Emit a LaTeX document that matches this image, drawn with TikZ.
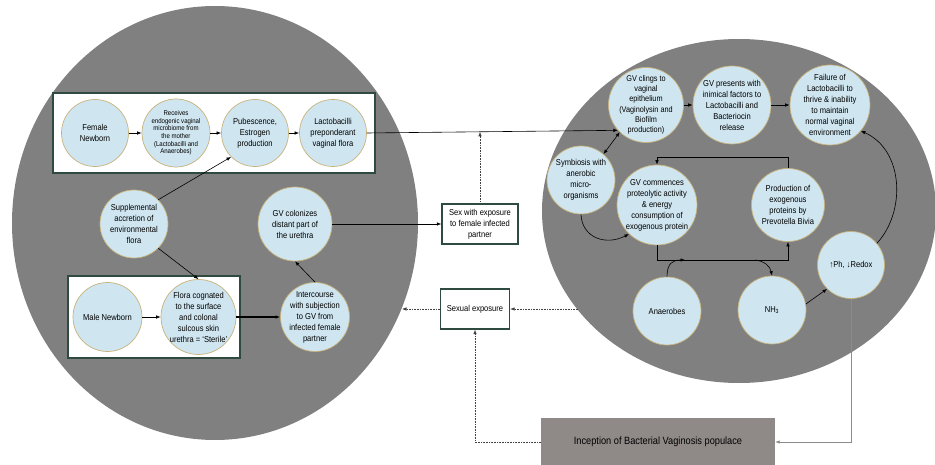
\documentclass[tikz,border=0pt]{standalone}
\usepackage{fontspec}
\setmainfont{Liberation Sans}[FakeStretch=0.88]
\usetikzlibrary{arrows.meta, calc}

\definecolor{zone}{HTML}{808080}
\definecolor{bub}{HTML}{CFE6F1}
\definecolor{bubline}{HTML}{C8B27A}
\definecolor{boxline}{HTML}{2F4A3E}
\definecolor{incepfill}{HTML}{8F8A88}

\tikzset{
  bubble/.style={circle, fill=bub, draw=bubline, line width=0.7pt, inner sep=0pt},
  txt/.style={align=center, inner sep=0pt, font=\fontsize{8.6}{11}\selectfont},
  small/.style={align=center, inner sep=0pt, font=\fontsize{6.9}{7.6}\selectfont},
  boxframe/.style={draw=boxline, line width=1.4pt, fill=white},
  link/.style={->, line width=0.6pt},
  dots/.style={->, densely dotted, line width=0.6pt, draw=black!75},
}

\begin{document}
\begin{tikzpicture}[x=1pt, y=-1pt, >={Latex[length=4.5pt,width=3.5pt]}]
\useasboundingbox (0,0) rectangle (935,465);
% the two grey zones
\fill[zone] (215,223) ellipse [x radius=203, y radius=217];
\fill[zone] (739,211) ellipse [x radius=197, y radius=172];
% female and male frames
\draw[boxframe] (53,93) rectangle (375,173);
\draw[boxframe] (68,276) rectangle (240,358);

% left zone
\node[bubble, minimum size=67, label={[txt]center:{Female\\Newborn}}] (fnew) at (95,133) {};
\node[bubble, minimum size=68, label={[small]center:{Receives\\endogenic vaginal\\microbiome from\\the mother\\(Lactobacilli and\\Anaerobes)}}] (recv) at (176,133) {};
\node[bubble, minimum size=67, label={[txt]center:{Pubescence,\\Estrogen\\production}}] (pube) at (255,133) {};
\node[bubble, minimum size=67, label={[txt]center:{Lactobacilli\\preponderant\\vaginal flora}}] (lacto) at (333,133) {};
\node[bubble, minimum size=68, label={[txt]center:{Supplemental\\accretion of\\environmental\\flora}}] (suppl) at (134,224) {};
\node[bubble, minimum size=74, label={[txt]center:{GV colonizes\\distant part of\\the urethra}}] (gvcol) at (295,224) {};
\node[bubble, minimum size=69, label={[txt]center:{Male Newborn}}] (mnew) at (107.5,317) {};
\node[bubble, minimum size=75, label={[txt]center:{Flora cognated\\to the surface\\and colonal\\sulcous skin\\urethra = ‘Sterile’}}] (flora) at (198.5,317) {};
\node[bubble, minimum size=69, label={[txt]center:{Intercourse\\with subjection\\to GV from\\infected female\\partner}}] (inter) at (315,317) {};

% right zone
\node[bubble, minimum size=75, label={[txt, font=\fontsize{8.3}{10.3}\selectfont]center:{GV clings to\\vaginal\\epithelium\\(Vaginolysin and\\Biofilm\\production)}}] (clings) at (646,105) {};
\node[bubble, minimum size=78, label={[txt]center:{GV presents with\\inimical factors to\\Lactobacilli and\\Bacteriocin\\release}}] (presents) at (732,105) {};
\node[bubble, minimum size=80, label={[txt]center:{Failure of\\Lactobacilli to\\thrive \& inability\\to maintain\\normal vaginal\\environment}}] (failure) at (830,105) {};
\node[bubble, minimum size=68, label={[txt]center:{Symbiosis with\\anerobic\\micro-\\organisms}}] (symb) at (581,180) {};
\node[bubble, minimum size=80, label={[txt]center:{GV commences\\proteolytic activity\\\& energy\\consumption of\\exogenous protein}}] (commence) at (657,205) {};
\node[bubble, minimum size=73, label={[txt]center:{Production of\\exogenous\\proteins by\\Prevotella Bivia}}] (prod) at (788,205) {};
\node[bubble, minimum size=67, label={[txt]center:{↑Ph, ↓Redox}}] (ph) at (851,265) {};
\node[bubble, minimum size=68, label={[txt]center:{Anaerobes}}] (anaer) at (667,311) {};
\node[bubble, minimum size=68, label={[txt]center:{NH\textsubscript{3}}}] (nh) at (772,310) {};

% boxes between the zones
\node[boxframe, txt, minimum width=76, minimum height=40] (sex) at (480,224) {Sex with exposure\\to female infected\\partner};
\node[boxframe, txt, minimum width=69, minimum height=40] (sexual) at (475,309) {Sexual exposure};
\node[fill=incepfill, minimum width=234, minimum height=48, font=\fontsize{10.5}{12}\selectfont] (incep) at (658,442) {Inception of Bacterial Vaginosis populace};

% left arrows
\draw[link] (fnew) -- (recv);
\draw[link] (recv) -- (pube);
\draw[link] (pube) -- (lacto);
\draw[link] (mnew) -- (flora);
\draw[link, line width=1.2pt] (flora) -- (inter);
\draw[link] (suppl.45) -- (pube.225);
\draw[link] (suppl.-45) -- (flora.north);
\draw[link] (inter.north) -- (gvcol.south);
\draw[link] (gvcol) -- (sex);
\draw[link] (lacto.east) -- coordinate[pos=0.45] (meet) (clings.222);
\draw[dots] (sex.north) -- (sex.north |- meet);

% right arrows
\draw[link] (clings) -- (presents);
\draw[link] (presents) -- (failure);
\draw[<->, line width=0.6pt] (clings.226) -- (symb.49);
\draw[link] (symb.south) .. controls (582,238) and (606,246) .. (commence.226);
\draw[link] (prod.north) -- ++(0,-10.5) -| (commence.north);
\draw[link] (commence.south) -- ++(0,15) -| (prod.south);
\coordinate (jn) at (685,260);
\coordinate (fork) at (755,260);
\draw[link] (anaer.north) .. controls (667,263) and (673,260) .. (jn);
\draw[link] (fork) .. controls (764,261) and (770,266) .. (nh.north);
\draw[link] (nh.10) -- (ph.225);
\draw[link] (ph.40) .. controls (906,212) and (904,150) .. (failure.-40);

% exposure and inception
\coordinate (redge) at (578,309);
\coordinate (ledge) at (402,309);
\draw[dots] (redge) -- (sexual.east);
\draw[dots] (sexual.west) -- (ledge);
\draw[dots] (incep.west) -| (sexual.south);
\draw[link, draw=black!45] (ph.south) |- (incep.east);
\end{tikzpicture}
\end{document}
